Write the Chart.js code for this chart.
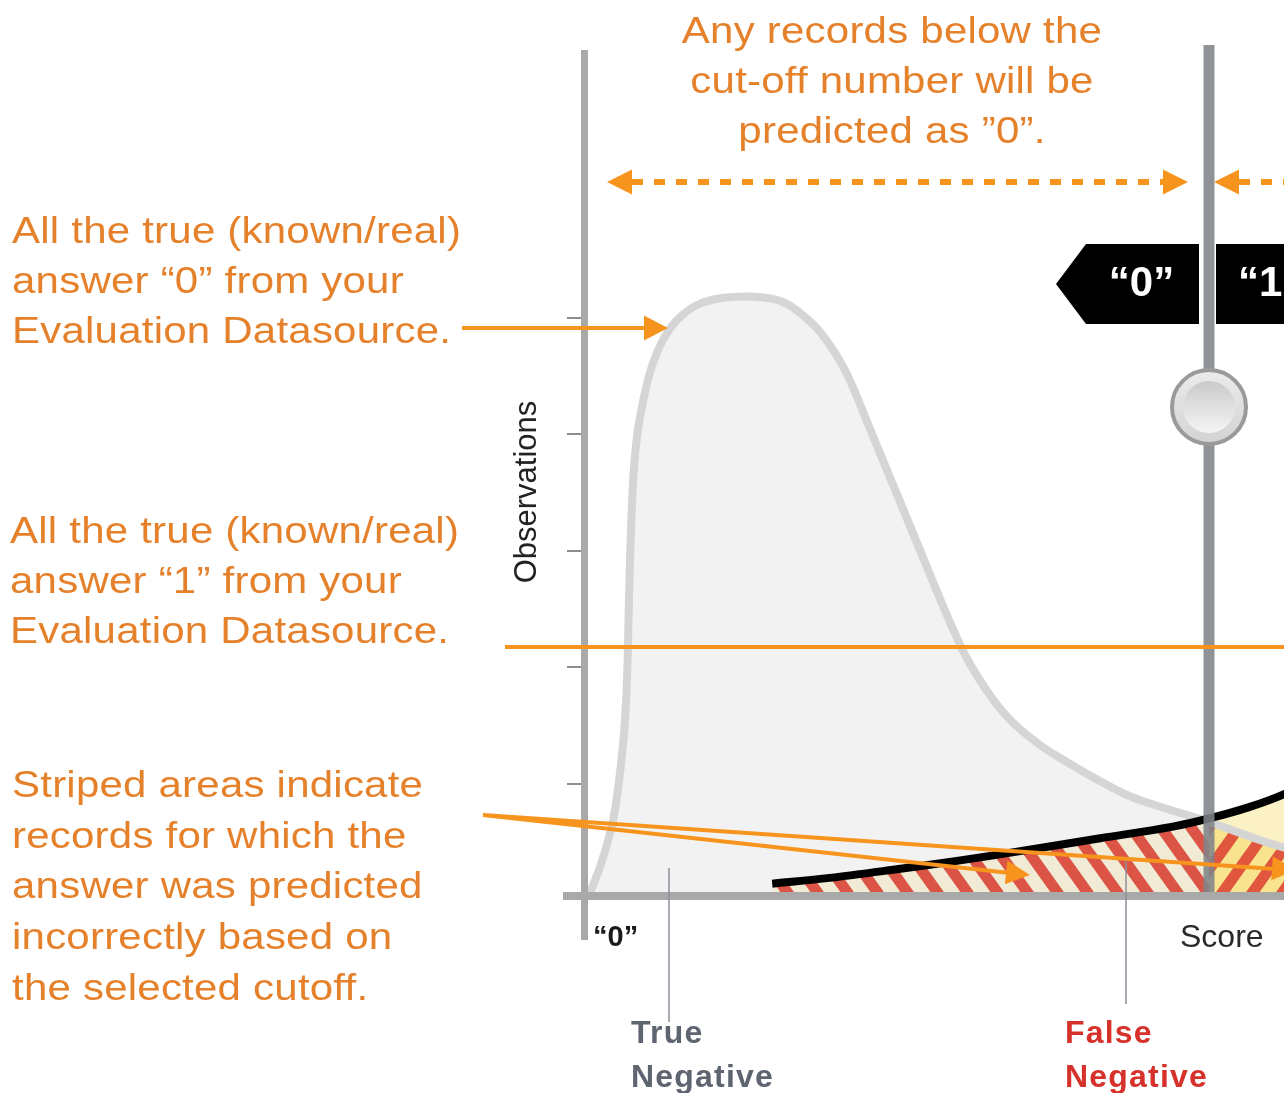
<!DOCTYPE html>
<html>
<head>
<meta charset="utf-8">
<title>Score cut-off</title>
<script src="https://cdn.jsdelivr.net/npm/chart.js@4.4.1/dist/chart.umd.min.js"></script>
<style>
  html, body { margin: 0; padding: 0; background: #fff; }
  #wrap { position: relative; width: 1284px; height: 1093px; overflow: hidden;
          font-family: "Liberation Sans", Arial, Helvetica, sans-serif; }
  #chart { position: absolute; left: 0; top: 0; }
  .txt { position: absolute; white-space: nowrap; }
  .note { color: #e6812b; font-size: 37.5px; line-height: 50px; letter-spacing: 0.2px;
          transform: scaleX(1.12); transform-origin: left top; }
  .lbl { font-weight: bold; font-size: 32px; line-height: 44px; letter-spacing: 1.2px; }
</style>
</head>
<body>
<div id="wrap">
  <canvas id="chart" width="1400" height="1093"></canvas>

  <div class="txt note" style="left:600px; top:5px; width:584px; text-align:center; transform-origin:center top;">Any records below the<br>cut-off number will be<br>predicted as ”0”.</div>
  <div class="txt note" style="left:12px; top:205px;">All the true (known/real)<br>answer “0” from your<br>Evaluation Datasource.</div>
  <div class="txt note" style="left:10px; top:505px;">All the true (known/real)<br>answer “1” from your<br>Evaluation Datasource.</div>
  <div class="txt note" style="left:12px; top:759px; line-height:50.7px;">Striped areas indicate<br>records for which the<br>answer was predicted<br>incorrectly based on<br>the selected cutoff.</div>

  <div class="txt" style="left:426px; top:474px; width:200px; height:36px; line-height:36px; font-size:31px; text-align:center; color:#222; transform:rotate(-90deg);">Observations</div>
  <div class="txt" style="left:1180px; top:920px; font-size:32px; line-height:32px; color:#2a2a2a;">Score</div>
  <div class="txt" style="left:593px; top:922px; font-size:29px; line-height:29px; font-weight:bold; color:#1a1a1a;">“0”</div>

  <div class="txt lbl" style="left:631px; top:1010px; color:#5e6570;">True<br>Negative</div>
  <div class="txt lbl" style="left:1065px; top:1010px; color:#d6322b;">False<br>Negative</div>

  <div class="txt" style="left:1085px; top:261px; width:113px; text-align:center; font-size:42px; line-height:42px; font-weight:bold; color:#fff;">“0”</div>
  <div class="txt" style="left:1238px; top:261px; font-size:42px; line-height:42px; font-weight:bold; color:#fff;">“1”</div>
</div>

<script>
// ---------------- data ----------------
const scoreMin = 0;
const scoreMax = 100;
const obsMax = 7.3;
const cutoff = 78;
const yTickValues = [1, 2, 3, 4, 5];

// true "0" answers (gray curve)
const grayScore = [0.6, 1.6, 2.5, 3.5, 4.25, 4.9, 5.25, 5.5, 5.75, 6.1, 6.6, 7.4, 8.4, 9.75, 11.5, 14,
  17.1, 21.25, 24.6, 27.1, 29.6, 32.5, 35.6, 41.6, 46.9, 50, 53.1, 56.9, 60.6, 64.4, 68.5, 78, 87.4, 100];
const grayObs = [0.06, 0.23, 0.42, 0.68, 1.02, 1.45, 1.89, 2.58, 3.18, 3.69, 4.03, 4.33, 4.59, 4.81, 4.98, 5.11,
  5.17, 5.18, 5.14, 5.03, 4.86, 4.55, 4.05, 3.05, 2.19, 1.82, 1.55, 1.33, 1.17, 1.02, 0.88, 0.67, 0.45, 0.27];

// true "1" answers (black curve)
const blackScore = [23.4, 30.6, 38.5, 46.9, 54.4, 64.4, 73.5, 78, 83.1, 87.4, 93.1, 100];
const blackObs = [0.14, 0.19, 0.26, 0.34, 0.42, 0.53, 0.63, 0.7, 0.8, 0.91, 1.1, 1.37];

// ---------------- helpers ----------------
const canvas = document.getElementById("chart");
const ctx = canvas.getContext("2d");

// diagonal stripes, tile w x h, one stripe per tile
function stripePattern(bg, fg, w, h, rising) {
  const tile = document.createElement("canvas");
  tile.width = w;
  tile.height = h;
  const g = tile.getContext("2d");
  g.fillStyle = bg;
  g.fillRect(0, 0, w, h);
  g.strokeStyle = fg;
  g.lineWidth = 0.45 * (w * h) / Math.hypot(w, h);
  g.beginPath();
  for (let k = -1; k <= 1; k++) {
    const o = k * w;
    if (rising) {
      g.moveTo(o - w * 0.5, h * 1.5);
      g.lineTo(o + w * 1.5, -h * 0.5);
    } else {
      g.moveTo(o - w * 0.5, -h * 0.5);
      g.lineTo(o + w * 1.5, h * 1.5);
    }
  }
  g.stroke();
  return ctx.createPattern(tile, "repeat");
}

function arrowHead(c, tipX, tipY, dx, dy, len, half) {
  const n = Math.hypot(dx, dy);
  dx /= n; dy /= n;
  const bx = tipX - dx * len, by = tipY - dy * len;
  c.beginPath();
  c.moveTo(tipX, tipY);
  c.lineTo(bx - dy * half, by + dx * half);
  c.lineTo(bx + dy * half, by - dx * half);
  c.closePath();
  c.fill();
}

const grayPoints = grayScore.map((s, i) => ({ x: s, y: grayObs[i] }));
const blackPoints = blackScore.map((s, i) => ({ x: s, y: blackObs[i] }));
const grayRight = grayPoints.filter((p) => p.x >= cutoff);
const blackLeft = blackPoints.filter((p) => p.x <= cutoff);
const blackRight = blackPoints.filter((p) => p.x >= cutoff);

const falseNegFill = stripePattern("#f1ebd5", "#dc5446", 30, 42, false);
const falsePosFill = stripePattern("#f8e48e", "#e0563f", 30, 42, true);

const lineBase = {
  pointRadius: 0,
  tension: 0.35,
  borderWidth: 0,
  borderColor: "transparent",
};

// ---------------- annotations ----------------
const ORANGE = "#f7941d";

const decorPlugin = {
  id: "decor",
  afterDatasetsDraw(chart) {
    const c = chart.ctx;
    const { x, y } = chart.scales;
    const cx = x.getPixelForValue(cutoff);
    const left = x.getPixelForValue(scoreMin);
    const base = y.getPixelForValue(0);
    c.save();

    // cut-off bar
    c.fillStyle = "rgba(128,132,138,0.88)";
    c.fillRect(cx - 5.5, 45, 11, base - 48);

    // axes
    c.fillStyle = "#a9a9a9";
    c.fillRect(563, base - 8, 1300 - 563, 8);
    c.fillRect(left - 4, 50, 7, 890);

    // leader lines for the labels
    c.strokeStyle = "#8a9099";
    c.lineWidth = 1.5;
    c.beginPath();
    c.moveTo(669, 868); c.lineTo(669, 1022);
    c.moveTo(1126, 860); c.lineTo(1126, 1004);
    c.stroke();

    // "0" / "1" tags
    c.fillStyle = "#000";
    c.beginPath();
    c.moveTo(cx - 153, 284);
    c.lineTo(cx - 123, 244);
    c.lineTo(cx - 10, 244);
    c.lineTo(cx - 10, 324);
    c.lineTo(cx - 123, 324);
    c.closePath();
    c.fill();
    c.fillRect(cx + 7, 244, 200, 80);

    // slider knob
    const ky = 407;
    let grad = c.createLinearGradient(0, ky - 39, 0, ky + 39);
    grad.addColorStop(0, "#ececec");
    grad.addColorStop(1, "#d2d2d2");
    c.fillStyle = grad;
    c.beginPath(); c.arc(cx, ky, 37, 0, Math.PI * 2); c.fill();
    c.strokeStyle = "#9a9a9a"; c.lineWidth = 4; c.stroke();
    grad = c.createLinearGradient(0, ky - 27, 0, ky + 27);
    grad.addColorStop(0, "#c9c9c9");
    grad.addColorStop(1, "#f6f6f6");
    c.fillStyle = grad;
    c.beginPath(); c.arc(cx, ky, 26, 0, Math.PI * 2); c.fill();

    // orange arrows
    c.strokeStyle = ORANGE;
    c.fillStyle = ORANGE;
    c.lineWidth = 6;
    c.setLineDash([11, 11]);
    c.beginPath();
    c.moveTo(left + 47, 182); c.lineTo(cx - 45, 182);
    c.moveTo(cx + 30, 182); c.lineTo(1300, 182);
    c.stroke();
    c.setLineDash([]);
    arrowHead(c, left + 22, 182, -1, 0, 25, 12.5);
    arrowHead(c, cx - 21, 182, 1, 0, 25, 12.5);
    arrowHead(c, cx + 5, 182, -1, 0, 25, 12.5);

    c.lineWidth = 4;
    c.beginPath();
    c.moveTo(462, 328); c.lineTo(648, 328);
    c.moveTo(505, 647); c.lineTo(1300, 647);
    c.moveTo(483, 815); c.lineTo(1010, 873);
    c.moveTo(483, 815); c.lineTo(1275, 869);
    c.stroke();
    arrowHead(c, 668, 328, 1, 0, 24, 12.5);
    arrowHead(c, 1030, 875, 1030 - 483, 875 - 815, 24, 12);
    arrowHead(c, 1296, 870, 1296 - 483, 870 - 815, 24, 12);

    c.restore();
  },
};

new Chart(ctx, {
  type: "line",
  data: {
    datasets: [
      { ...lineBase, data: grayPoints, fill: "origin", backgroundColor: "#f2f2f2", order: 6 },
      { ...lineBase, data: blackLeft, fill: "origin", backgroundColor: falseNegFill, order: 5 },
      { ...lineBase, data: blackRight, fill: "origin", backgroundColor: "#fbf1c5", order: 5 },
      { ...lineBase, data: grayRight, fill: "origin", backgroundColor: falsePosFill, order: 4 },
      { ...lineBase, data: grayPoints, fill: false, borderColor: "#d5d5d5", borderWidth: 8, order: 3 },
      { ...lineBase, data: blackPoints, fill: false, borderColor: "#000", borderWidth: 8, order: 2 },
    ],
  },
  options: {
    responsive: false,
    animation: false,
    events: [],
    layout: { padding: { left: 0, top: 50, right: 15, bottom: 193 } },
    plugins: { legend: { display: false }, tooltip: { enabled: false } },
    scales: {
      x: { type: "linear", min: scoreMin, max: scoreMax, display: false },
      y: {
        min: 0,
        max: obsMax,
        afterFit: (s) => { s.width = 585; },
        ticks: { stepSize: 1, callback: () => "", padding: 0 },
        border: { display: false },
        grid: {
          drawOnChartArea: false,
          drawTicks: true,
          tickLength: 18,
          lineWidth: 2,
          color: (c) => (c.tick && yTickValues.includes(c.tick.value) ? "#8d8d8d" : "transparent"),
        },
      },
    },
  },
  plugins: [decorPlugin],
});
</script>
</body>
</html>
